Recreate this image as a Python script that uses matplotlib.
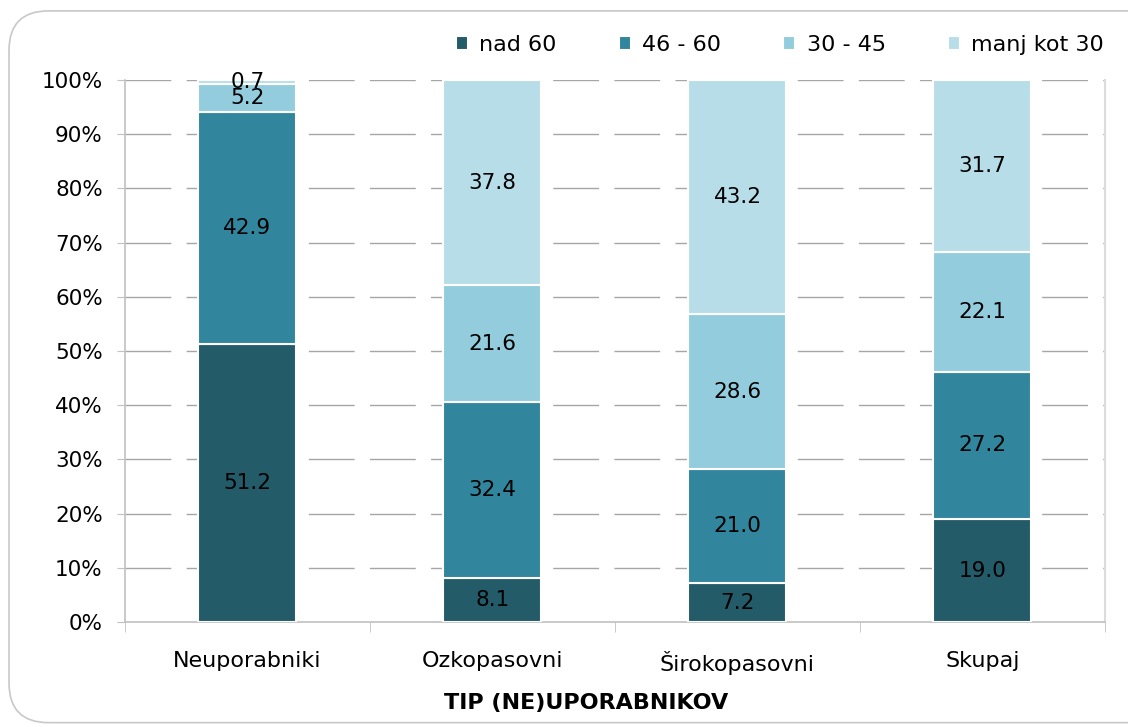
import matplotlib
matplotlib.use("Agg")
import matplotlib.pyplot as plt
import numpy as np
from matplotlib.patches import FancyBboxPatch

# ---------------------------------------------
# DATA (shares in %)
# ---------------------------------------------
categories = ["Neuporabniki", "Ozkopasovni", "Širokopasovni", "Skupaj"]
series_names = ["nad 60", "46 - 60", "30 - 45", "manj kot 30"]
nad_60 = [51.2, 8.1, 7.2, 19.0]
od_46_do_60 = [42.9, 32.4, 21.0, 27.2]
od_30_do_45 = [5.2, 21.6, 28.6, 22.1]
manj_kot_30 = [0.7, 37.8, 43.2, 31.7]
colors = ["#235b69", "#31859c", "#93cddd", "#b7dee8"]

plt.rcParams["font.family"] = ["DejaVu Sans"]
plt.rcParams["lines.scale_dashes"] = False

fig = plt.figure(figsize=(11.28, 7.27), dpi=100)

# rounded frame around the chart
frame = FancyBboxPatch((0.008, 0.006), 1.2, 0.979, boxstyle="round,pad=0,rounding_size=0.035",
                       transform=fig.transFigure, facecolor="none", edgecolor="#c8c8c8",
                       linewidth=1.2, mutation_aspect=1128 / 727, zorder=-1)
fig.patches.append(frame)

ax = fig.add_axes([0.1108, 0.1444, 0.8688, 0.7456])
ax.set_facecolor("none")

x = np.arange(len(categories))
data = [nad_60, od_46_do_60, od_30_do_45, manj_kot_30]
totals = np.sum(data, axis=0)
bottom = np.zeros(len(categories))

for name, vals, col in zip(series_names, data, colors):
    shares = np.array(vals) / totals * 100
    ax.bar(x, shares, width=0.4, bottom=bottom, color=col, edgecolor="white",
           linewidth=1.5, label=name, zorder=3)
    for xi, b, s, v in zip(x, bottom, shares, vals):
        ax.text(xi, b + s / 2, f"{v:.1f}", ha="center", va="center", fontsize=15.5,
                color="black", zorder=4)
    bottom += shares

# ---------------------------------------------
# AXES
# ---------------------------------------------
ax.set_xlim(-0.5, len(categories) - 0.5)
ax.set_ylim(0, 100)
ax.set_yticks(range(0, 101, 10))
ax.set_yticklabels([f"{t}%" for t in range(0, 101, 10)], fontsize=15.5)
ax.set_xticks(x)
ax.set_xticklabels(categories, fontsize=16)
ax.set_xticks(np.arange(-0.5, len(categories)), minor=True)
ax.tick_params(axis="x", which="major", length=0, pad=21)
ax.tick_params(axis="x", which="minor", length=7, color="#c0c0c0", direction="out")
ax.tick_params(axis="y", length=6, color="#c0c0c0", pad=10)

for y in range(10, 101, 10):
    ax.axhline(y, color="#a6a6a6", linewidth=1.0, dashes=(33, 11), zorder=1)

ax.spines["top"].set_visible(False)
ax.spines["right"].set_color("#dcdcdc")
ax.spines["right"].set_linewidth(1.5)
for side in ["left", "bottom"]:
    ax.spines[side].set_color("#c0c0c0")
    ax.spines[side].set_linewidth(1.2)

fig.text(586 / 1128, 1 - 703 / 727, "TIP (NE)UPORABNIKOV", fontsize=16, fontweight="heavy",
         ha="center", va="center")

leg = ax.legend(loc="lower right", bbox_to_anchor=(1.008, 1.03), ncol=4, frameon=False,
                fontsize=16, handlelength=0.55, handleheight=0.55, handletextpad=0.5,
                columnspacing=2.8, borderaxespad=0)

plt.savefig("out.png", dpi=100)
plt.close()
